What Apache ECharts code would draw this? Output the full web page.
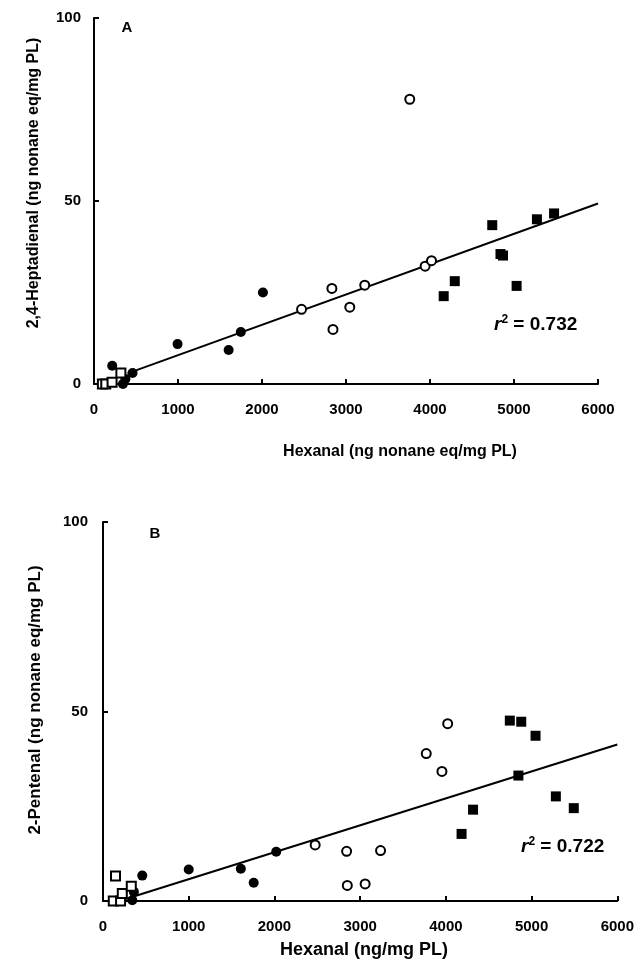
<!DOCTYPE html>
<html>
<head>
<meta charset="utf-8">
<script src="https://cdn.jsdelivr.net/npm/echarts@6/dist/echarts.min.js"></script>
<style>
  html, body { margin: 0; padding: 0; background: #fff; }
  #chart { width: 637px; height: 966px; }
</style>
</head>
<body>
<div id="chart"></div>
<script>
// panel A: 2,4-heptadienal vs hexanal
var aFilledCircles = [[217,5.0],[344,0],[374,1.4],[459,3.0],[995,10.9],[1603,9.3],[1748,14.2],[2011,25.0]];
var aOpenCircles = [[2471,20.4],[2832,26.1],[2845,14.9],[3045,21.0],[3223,27.0],[3759,77.8],[3942,32.2],[4018,33.7]];
var aFilledSquares = [[4163,24.0],[4295,28.1],[4741,43.4],[4839,35.5],[4869,35.1],[5031,26.8],[5273,45.0],[5477,46.6]];
var aOpenSquares = [[100,0],[140,0],[215,0.5],[320,3.0]];
var aFit = [[400,2.9],[6000,49.3]];

// panel B: 2-pentenal vs hexanal
var bFilledCircles = [[342,0.2],[360,2.4],[458,6.7],[1000,8.3],[1608,8.5],[1758,4.8],[2021,13.0]];
var bOpenCircles = [[2475,14.8],[2842,13.1],[2850,4.1],[3058,4.5],[3238,13.3],[3771,38.9],[3954,34.2],[4021,46.8]];
var bFilledSquares = [[4183,17.7],[4317,24.1],[4746,47.6],[4879,47.3],[5046,43.6],[4846,33.1],[5283,27.6],[5492,24.5]];
var bOpenSquares = [[120,0],[146,6.6],[205,0],[225,2.0],[330,3.9]];
var bFit = [[190,0],[6000,41.3]];

var myChart = echarts.init(document.getElementById('chart'));
var font = 'Liberation Sans, Arial, sans-serif';

function xAxisOf(gi) {
	return {
		gridIndex: gi, type: 'value', min: 0, max: 6000, interval: 1000,
		axisLine: {show: true, lineStyle: {color: '#000', width: 2}},
		axisTick: {show: true, inside: true, length: 5, lineStyle: {color: '#000', width: 2}},
		axisLabel: {margin: 18, color: '#000', fontFamily: font, fontWeight: 'bold', fontSize: 15,
			formatter: function (v) { return String(v); }},
		splitLine: {show: false}
	};
}
function yAxisOf(gi, margin) {
	return {
		gridIndex: gi, type: 'value', min: 0, max: 100, interval: 50,
		axisLine: {show: true, lineStyle: {color: '#000', width: 2}},
		axisTick: {show: true, inside: true, length: 5, lineStyle: {color: '#000', width: 2}},
		axisLabel: {margin: margin, color: '#000', fontFamily: font, fontWeight: 'bold', fontSize: 15},
		splitLine: {show: false}
	};
}
function pts(name, gi, data, symbol, size, filled) {
	return {
		name: name, type: 'scatter', xAxisIndex: gi, yAxisIndex: gi,
		data: data, symbol: symbol, symbolSize: size, z: 3,
		itemStyle: filled ? {color: '#000', opacity: 1}
			: {color: '#fff', borderColor: '#000', borderWidth: 2, opacity: 1}
	};
}
function fit(gi, data) {
	return {
		type: 'line', xAxisIndex: gi, yAxisIndex: gi, data: data, symbol: 'none', z: 2,
		lineStyle: {color: '#000', width: 2}
	};
}
function txt(x, y, text, size, rot) {
	return {
		type: 'text', x: x, y: y, rotation: rot || 0,
		style: {text: text, fill: '#000', font: 'bold ' + size + 'px ' + font, align: 'center', verticalAlign: 'middle'}
	};
}
function r2(x, y, val) {
	return {
		type: 'text', x: x, y: y,
		style: {
			text: '{i|r}{s|2}{n| = ' + val + '}',
			align: 'left', verticalAlign: 'middle',
			rich: {
				i: {fontFamily: font, fontWeight: 'bold', fontStyle: 'italic', fontSize: 19, fill: '#000'},
				s: {fontFamily: font, fontWeight: 'bold', fontSize: 12, fill: '#000', verticalAlign: 'top', padding: [0, 0, 10, 0]},
				n: {fontFamily: font, fontWeight: 'bold', fontSize: 19, fill: '#000'}
			}
		}
	};
}

var option = {
	animation: false,
	backgroundColor: '#fff',
	grid: [
		{left: 94, top: 18, width: 504, height: 366},
		{left: 103, top: 522, width: 515, height: 379}
	],
	xAxis: [xAxisOf(0), xAxisOf(1)],
	yAxis: [yAxisOf(0, 13), yAxisOf(1, 15)],
	series: [
		fit(0, aFit),
		pts('A filled circles', 0, aFilledCircles, 'circle', 10, true),
		pts('A open circles', 0, aOpenCircles, 'circle', 9, false),
		pts('A filled squares', 0, aFilledSquares, 'rect', 10, true),
		pts('A open squares', 0, aOpenSquares, 'rect', 9, false),
		fit(1, bFit),
		pts('B filled circles', 1, bFilledCircles, 'circle', 10, true),
		pts('B open circles', 1, bOpenCircles, 'circle', 9, false),
		pts('B filled squares', 1, bFilledSquares, 'rect', 10, true),
		pts('B open squares', 1, bOpenSquares, 'rect', 9, false)
	],
	graphic: [
		txt(127, 28, 'A', 15),
		txt(155, 534, 'B', 15),
		txt(34, 183, '2,4-Heptadienal (ng nonane eq/mg PL)', 16, Math.PI / 2),
		txt(35, 700, '2-Pentenal (ng nonane eq/mg PL)', 17, Math.PI / 2),
		txt(400, 452, 'Hexanal (ng nonane eq/mg PL)', 16),
		txt(364, 950, 'Hexanal (ng/mg PL)', 18),
		r2(494, 325, '0.732'),
		r2(521, 847, '0.722')
	]
};
myChart.setOption(option);
</script>
</body>
</html>
